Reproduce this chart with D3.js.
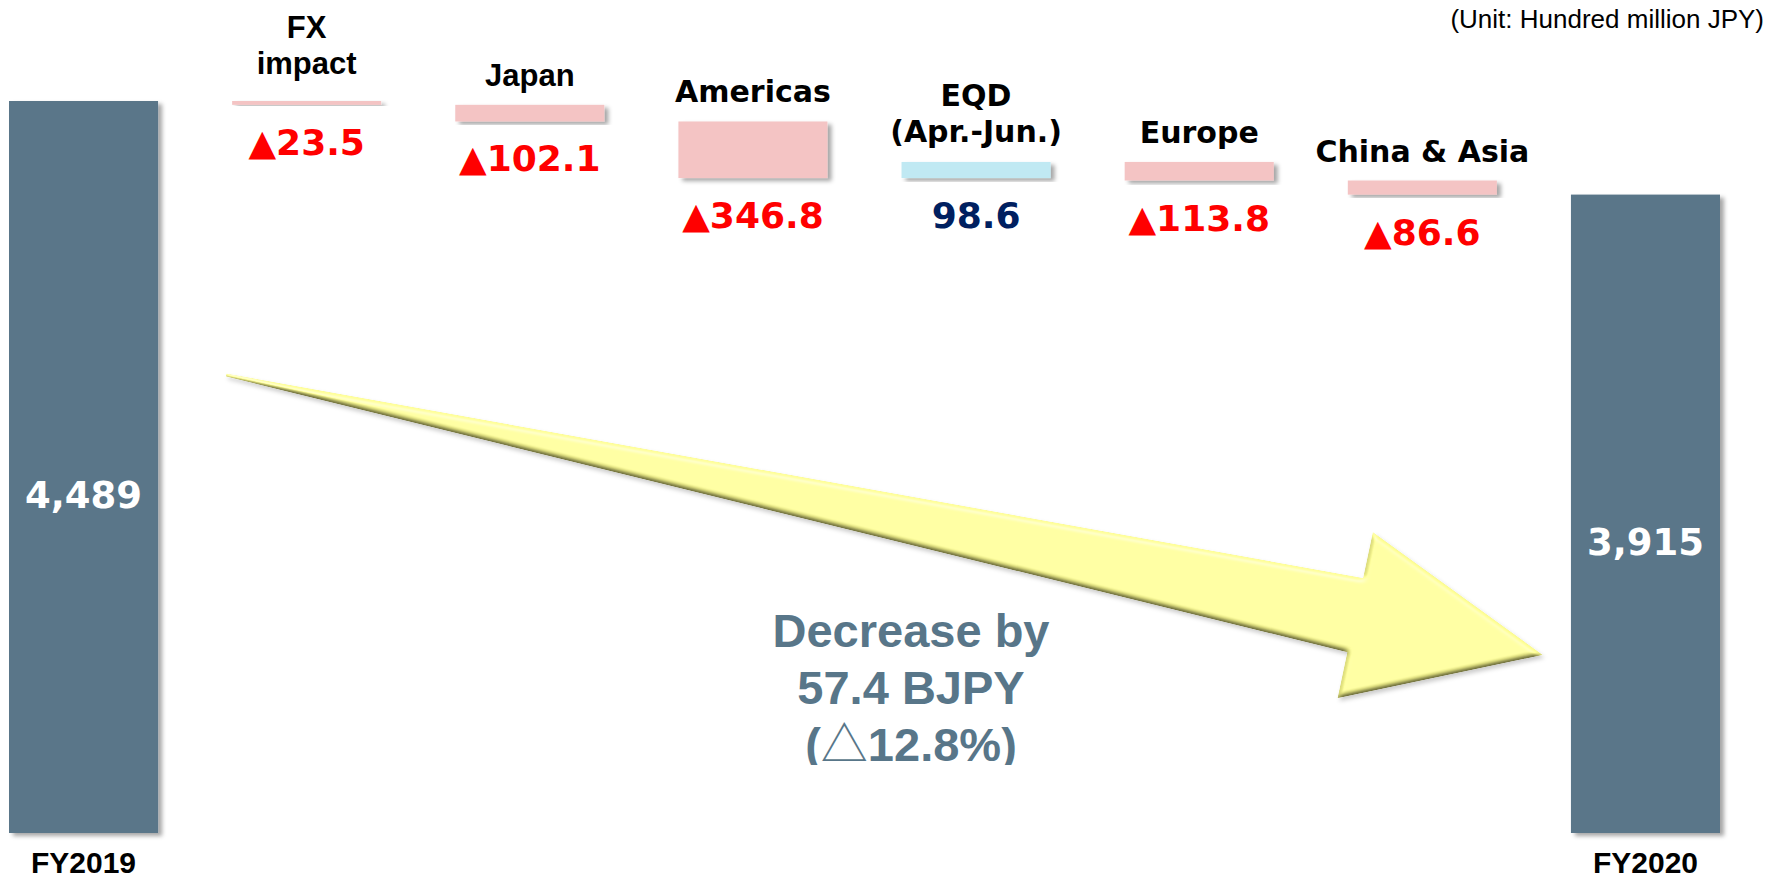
<!DOCTYPE html>
<html>
<head>
<meta charset="utf-8">
<script src="https://cdn.jsdelivr.net/npm/d3@7"></script>
<style>
  html, body { margin: 0; padding: 0; background: #fff; }
  #chart svg { display: block; }
  .bar-total { fill: #5a7689; }
  .bar-down  { fill: #f4c4c4; }
  .bar-up    { fill: #c0e9f3; }
  .step-label { font-weight: bold; fill: #000; }
  .step-label.arial { font-family: "Liberation Sans", Arial, sans-serif; font-size: 31px; }
  .step-label.meiryo { font-family: "DejaVu Sans", Verdana, sans-serif; font-size: 30px; }
  .step-value { font: bold 36px "DejaVu Sans", Verdana, sans-serif; }
  .total-value { font: bold 37px "DejaVu Sans", Verdana, sans-serif; fill: #fff; }
  .axis-label { font: bold 30px "Liberation Sans", Arial, sans-serif; fill: #000; }
  .unit { font: 26px "Liberation Sans", Arial, sans-serif; fill: #000; }
  .summary { font: bold 47px "Liberation Sans", Arial, sans-serif; fill: #587689; }
</style>
</head>
<body>
<div id="chart"></div>
<script>
  // --- Data (hundred million JPY) ---
  const totalLabels = ["FY2019", "FY2020"];
  const totalValues = [4489, 3915];

  const stepLabels = [["FX", "impact"], ["Japan"], ["Americas"], ["EQD", "(Apr.-Jun.)"], ["Europe"], ["China & Asia"]];
  const stepValues = [-23.5, -102.1, -346.8, 98.6, -113.8, -86.6];

  const unitText = "(Unit: Hundred million JPY)";
  const summaryLines = ["Decrease by", "57.4 BJPY", "(△12.8%)"];

  const width = 1768, height = 880;

  // waterfall rows
  let running = totalValues[0];
  const steps = stepValues.map((v, i) => {
    const start = running;
    running += v;
    return { key: stepLabels[i].join(" "), lines: stepLabels[i], value: v, start, end: running };
  });

  const keys = [totalLabels[0], ...steps.map(d => d.key), totalLabels[1]];

  const x = d3.scaleBand().domain(keys).range([9, 1720]).paddingInner(0.332).paddingOuter(0);
  const y = d3.scaleLinear().domain([0, totalValues[0]]).range([833, 101]);

  const svg = d3.select("#chart").append("svg")
    .attr("width", width).attr("height", height)
    .attr("viewBox", `0 0 ${width} ${height}`);

  const defs = svg.append("defs");

  // soft drop shadow for the bars
  defs.append("filter").attr("id", "shadow")
      .attr("x", "-10%").attr("y", "-10%").attr("width", "130%").attr("height", "130%")
    .append("feDropShadow")
      .attr("dx", 4).attr("dy", 3).attr("stdDeviation", 2)
      .attr("flood-color", "#000").attr("flood-opacity", 0.35);

  // bevel for the big arrow
  const bevel = defs.append("filter").attr("id", "bevel")
    .attr("x", "-5%").attr("y", "-20%").attr("width", "110%").attr("height", "150%");
  bevel.append("feGaussianBlur").attr("in", "SourceAlpha").attr("stdDeviation", 2.5).attr("result", "blur");
  bevel.append("feDiffuseLighting").attr("in", "blur").attr("surfaceScale", 3.5)
      .attr("diffuseConstant", 1.16).attr("lighting-color", "#fff").attr("result", "diff")
    .append("feDistantLight").attr("azimuth", 270).attr("elevation", 55);
  bevel.append("feComposite").attr("in", "SourceGraphic").attr("in2", "diff")
    .attr("operator", "arithmetic").attr("k1", 1).attr("k2", 0).attr("k3", 0).attr("k4", 0).attr("result", "lit");
  bevel.append("feSpecularLighting").attr("in", "blur").attr("surfaceScale", 3)
      .attr("specularConstant", 0.3).attr("specularExponent", 20).attr("lighting-color", "#fff").attr("result", "spec")
    .append("feDistantLight").attr("azimuth", 270).attr("elevation", 55);
  bevel.append("feComposite").attr("in", "spec").attr("in2", "SourceAlpha").attr("operator", "in").attr("result", "specIn");
  bevel.append("feComposite").attr("in", "lit").attr("in2", "specIn")
    .attr("operator", "arithmetic").attr("k1", 0).attr("k2", 1).attr("k3", 1).attr("k4", 0).attr("result", "out");
  bevel.append("feComposite").attr("in", "out").attr("in2", "SourceAlpha").attr("operator", "in").attr("result", "shape");
  bevel.append("feDropShadow").attr("in", "shape").attr("dx", 2).attr("dy", 3).attr("stdDeviation", 2)
    .attr("flood-color", "#000").attr("flood-opacity", 0.2);

  defs.append("clipPath").attr("id", "summary-clip")
    .append("rect").attr("x", 0).attr("y", 0).attr("width", width).attr("height", 765);

  // --- Arrow (drawn first, behind the text) ---
  const tail = [x(steps[0].key) - 6, 375];
  const tip = [x(totalLabels[1]) - 28, 655];
  const dx = tip[0] - tail[0], dy = tip[1] - tail[1];
  const L = Math.hypot(dx, dy);
  const u = [dx / L, dy / L], n = [u[1], -u[0]];
  const headLen = 192, headHalf = 85, shaftHalf = 38, tailHalf = 1.5;
  const at = (s, w) => [tail[0] + u[0] * s + n[0] * w, tail[1] + u[1] * s + n[1] * w];
  const arrowPts = [
    at(0, tailHalf), at(L - headLen, shaftHalf), at(L - headLen, headHalf), at(L, 0),
    at(L - headLen, -headHalf), at(L - headLen, -shaftHalf), at(0, -tailHalf)
  ];
  svg.append("path")
    .attr("d", d3.line()(arrowPts) + "Z")
    .attr("fill", "#f9f98e")
    .attr("filter", "url(#bevel)");

  // --- Total bars ---
  const totals = totalLabels.map((k, i) => ({ key: k, value: totalValues[i] }));
  svg.append("g").selectAll("rect").data(totals).join("rect")
    .attr("class", "bar-total")
    .attr("x", d => x(d.key)).attr("width", x.bandwidth())
    .attr("y", d => y(d.value)).attr("height", d => y(0) - y(d.value))
    .attr("filter", "url(#shadow)");

  svg.append("g").selectAll("text").data(totals).join("text")
    .attr("class", "total-value")
    .attr("text-anchor", "middle")
    .attr("x", d => x(d.key) + x.bandwidth() / 2)
    .attr("y", d => (y(d.value) + y(0)) / 2 + 41)
    .text(d => d3.format(",")(d.value));

  svg.append("g").selectAll("text").data(totals).join("text")
    .attr("class", "axis-label")
    .attr("text-anchor", "middle")
    .attr("x", d => x(d.key) + x.bandwidth() / 2)
    .attr("y", 873)
    .text(d => d.key);

  // --- Step bars ---
  const stepTop = d => y(Math.max(d.start, d.end));
  const stepBottom = d => y(Math.min(d.start, d.end));

  svg.append("g").selectAll("rect").data(steps).join("rect")
    .attr("class", d => d.value < 0 ? "bar-down" : "bar-up")
    .attr("x", d => x(d.key)).attr("width", x.bandwidth())
    .attr("y", stepTop)
    .attr("height", d => Math.max(1, stepBottom(d) - stepTop(d)))
    .attr("filter", "url(#shadow)");

  const arialLabels = new Set(["FX impact", "Japan"]);
  const labels = svg.append("g").selectAll("text").data(steps).join("text")
    .attr("class", d => "step-label " + (arialLabels.has(d.key) ? "arial" : "meiryo"))
    .attr("text-anchor", "middle")
    .attr("x", d => x(d.key) + x.bandwidth() / 2)
    .attr("y", d => stepTop(d) - 19 - (d.lines.length - 1) * 37 - (arialLabels.has(d.key) && d.lines.length > 1 ? 7 : 0));
  labels.selectAll("tspan").data(d => d.lines.map(t => ({ t, cx: x(d.key) + x.bandwidth() / 2 }))).join("tspan")
    .attr("x", t => t.cx)
    .attr("dy", (t, i) => i === 0 ? 0 : 36)
    .text(t => t.t);

  svg.append("g").selectAll("text").data(steps).join("text")
    .attr("class", "step-value")
    .attr("text-anchor", "middle")
    .attr("fill", d => d.value < 0 ? "#ff0000" : "#002060")
    .attr("x", d => x(d.key) + x.bandwidth() / 2)
    .attr("y", d => stepBottom(d) + 50)
    .text(d => d.value < 0 ? "▲" + Math.abs(d.value).toFixed(1) : d.value.toFixed(1));

  // --- Unit note ---
  svg.append("text").attr("class", "unit")
    .attr("text-anchor", "end").attr("x", 1764).attr("y", 28)
    .text(unitText);

  // --- Summary ---
  const summary = svg.append("text").attr("class", "summary")
    .attr("clip-path", "url(#summary-clip)")
    .attr("text-anchor", "middle").attr("y", 647);
  summary.selectAll("tspan").data(summaryLines).join("tspan")
    .attr("x", 911)
    .attr("dy", (d, i) => i === 0 ? 0 : 57)
    .each(function (d) {
      const parts = d.split("△");
      const t = d3.select(this);
      if (parts.length === 1) { t.text(d); return; }
      t.append("tspan").text(parts[0]);
      t.append("tspan").attr("font-family", "'Noto Sans CJK JP'").attr("font-weight", "normal").text("△");
      t.append("tspan").text(parts[1]);
    });
</script>
</body>
</html>
